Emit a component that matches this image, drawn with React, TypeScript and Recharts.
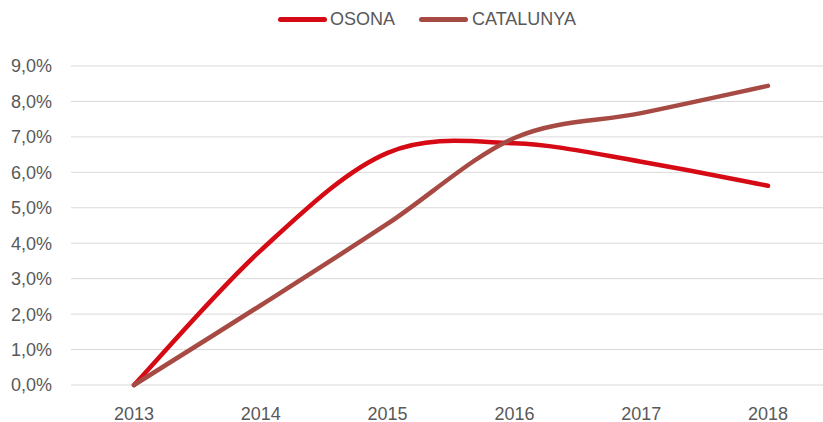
import React from 'react';
import { LineChart, Line, XAxis, YAxis, CartesianGrid } from 'recharts';

const years = ['2013', '2014', '2015', '2016', '2017', '2018'];
const osona = [0, 0.038, 0.0655, 0.0682, 0.063, 0.0562];
const catalunya = [0, 0.0225, 0.0455, 0.0697, 0.0767, 0.0844];
const yTicks = [0, 0.01, 0.02, 0.03, 0.04, 0.05, 0.06, 0.07, 0.08, 0.09];
const seriesNames = ['OSONA', 'CATALUNYA'];
const seriesColors = ['#D50A14', '#A64A43'];

const data = years.map((y, i) => ({ year: y, OSONA: osona[i], CATALUNYA: catalunya[i] }));

const FONT = '"Liberation Sans", Arial, sans-serif';
const TEXT = '#595959';

// Excel-like smoothing (Catmull-Rom Bezier)
const excelCurve = (context: any) => {
  let pts: number[][] = [];
  return {
    areaStart() {},
    areaEnd() {},
    lineStart() {
      pts = [];
    },
    lineEnd() {
      const n = pts.length;
      if (!n) return;
      context.moveTo(pts[0][0], pts[0][1]);
      for (let i = 0; i < n - 1; i++) {
        const p0 = pts[Math.max(0, i - 1)];
        const p1 = pts[i];
        const p2 = pts[i + 1];
        const p3 = pts[Math.min(n - 1, i + 2)];
        const c1x = p1[0] + (p2[0] - p0[0]) / 6;
        const c1y = p1[1] + (p2[1] - p0[1]) / 6;
        const c2x = p2[0] - (p3[0] - p1[0]) / 6;
        const c2y = p2[1] - (p3[1] - p1[1]) / 6;
        context.bezierCurveTo(c1x, c1y, c2x, c2y, p2[0], p2[1]);
      }
    },
    point(x: number, y: number) {
      pts.push([+x, +y]);
    },
  };
};

const fmt = (v: number) => (v * 100).toFixed(1).replace('.', ',') + '%';

const legendPos = [
  { lineX: 278, textX: 330 },
  { lineX: 419, textX: 472 },
];

export default function App() {
  return (
    <div style={{ position: 'absolute', left: 0, top: 0, width: 823, height: 422, overflow: 'hidden', background: '#fff' }}>
      <LineChart width={832} height={422} data={data} margin={{ top: 66, right: 0, bottom: 0, left: 0 }}>
        <CartesianGrid vertical={false} stroke="#D9D9D9" strokeWidth={1} />
        <XAxis
          dataKey="year"
          axisLine={false}
          tickLine={false}
          tickSize={0}
          tickMargin={22}
          height={37}
          interval={0}
          padding={{ left: 63, right: 64 }}
          tick={{ fill: TEXT, fontSize: 18, fontFamily: FONT }}
        />
        <YAxis
          domain={[0, 0.09]}
          ticks={yTicks}
          tickFormatter={fmt}
          axisLine={false}
          tickLine={false}
          tickSize={0}
          tickMargin={19}
          width={71}
          interval={0}
          tick={{ fill: TEXT, fontSize: 18, fontFamily: FONT }}
        />
        {seriesNames.map((name, i) => (
          <Line
            key={name}
            dataKey={name}
            type={excelCurve as any}
            stroke={seriesColors[i]}
            strokeWidth={4.5}
            strokeLinecap="round"
            dot={false}
            activeDot={false}
            isAnimationActive={false}
          />
        ))}
      </LineChart>
      {seriesNames.map((name, i) => (
        <div key={name}>
          <div
            style={{
              position: 'absolute',
              left: legendPos[i].lineX,
              top: 17,
              width: 49,
              height: 5,
              borderRadius: 3,
              background: seriesColors[i],
            }}
          />
          <div
            style={{
              position: 'absolute',
              left: legendPos[i].textX,
              top: 8,
              fontFamily: FONT,
              fontSize: 18,
              lineHeight: '22px',
              color: TEXT,
              whiteSpace: 'nowrap',
            }}
          >
            {name}
          </div>
        </div>
      ))}
    </div>
  );
}
